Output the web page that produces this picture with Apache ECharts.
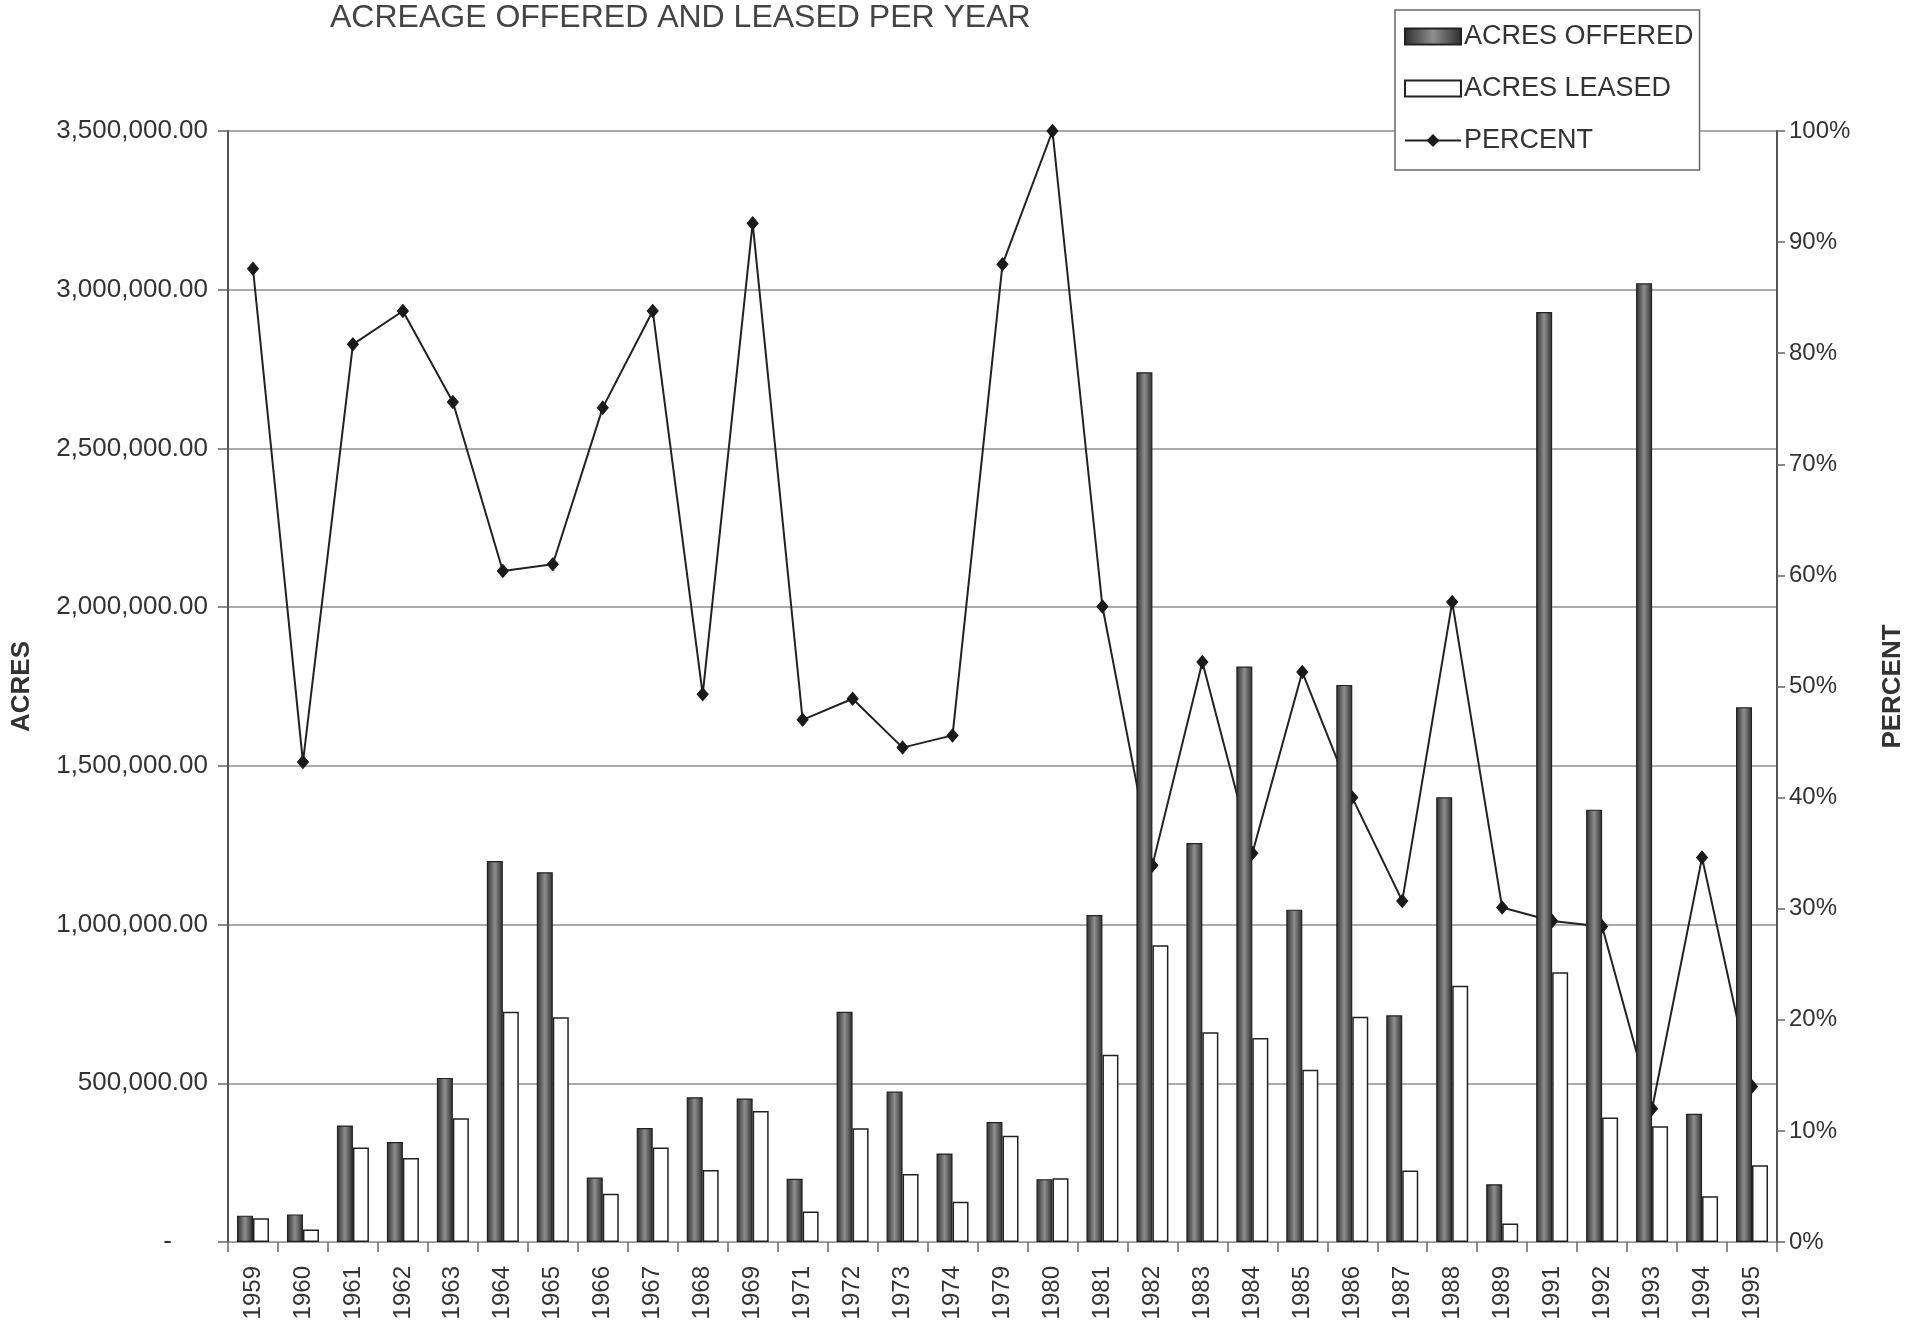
<!DOCTYPE html>
<html>
<head>
<meta charset="utf-8">
<script src="https://cdn.jsdelivr.net/npm/echarts@6/dist/echarts.min.js"></script>
<style>
html, body { margin: 0; padding: 0; background: #ffffff; }
#chart { width: 1915px; height: 1324px; }
</style>
</head>
<body>
<div id="chart"></div>
<script>
const years = ['1959','1960','1961','1962','1963','1964','1965','1966','1967','1968','1969','1971','1972','1973','1974','1979','1980','1981','1982','1983','1984','1985','1986','1987','1988','1989','1991','1992','1993','1994','1995'];
const acresOffered = [83000, 87000, 367000, 315000, 517000, 1200000, 1165000, 203000, 359000, 456000, 452000, 199000, 725000, 474000, 279000, 378000, 198000, 1030000, 2740000, 1257000, 1813000, 1047000, 1755000, 714000, 1401000, 182000, 2930000, 1362000, 3020000, 404000, 1685000];
const acresLeased = [75000, 39000, 298000, 265000, 390000, 725000, 708000, 152000, 298000, 227000, 413000, 96000, 358000, 214000, 127000, 335000, 201000, 590000, 935000, 661000, 643000, 543000, 710000, 225000, 807000, 58000, 850000, 392000, 365000, 144000, 242000];
const percentLeased = [87.6, 43.2, 80.8, 83.8, 75.6, 60.4, 61.0, 75.1, 83.8, 49.3, 91.7, 47.0, 48.9, 44.5, 45.6, 88.0, 100, 57.2, 33.9, 52.2, 35.0, 51.3, 40.0, 30.7, 57.6, 30.1, 28.9, 28.4, 12.0, 34.6, 14.0];

const titleText = 'ACREAGE OFFERED AND LEASED PER YEAR';
const seriesNames = ['ACRES OFFERED', 'ACRES LEASED', 'PERCENT'];
const leftAxisName = 'ACRES';
const rightAxisName = 'PERCENT';

const FONT = "'Liberation Sans', Arial, Helvetica, sans-serif";

const chart = echarts.init(document.getElementById('chart'), null, { renderer: 'canvas' });

const offeredFill = new echarts.graphic.LinearGradient(0, 0, 1, 0, [
  { offset: 0, color: '#2c2c2c' },
  { offset: 0.5, color: '#8e8e8e' },
  { offset: 1, color: '#2c2c2c' }
]);

const option = {
  backgroundColor: '#ffffff',
  animation: false,
  textStyle: { fontFamily: FONT },
  title: {
    text: titleText,
    left: 330,
    top: 2,
    padding: 0,
    textStyle: { fontFamily: FONT, fontSize: 32, fontWeight: 'normal', color: '#444444' }
  },
  legend: {
    orient: 'vertical',
    left: 1395,
    top: 10,
    padding: [13, 6, 16, 9],
    itemGap: 25,
    itemWidth: 56,
    itemHeight: 16,
    borderColor: '#666666',
    borderWidth: 1.5,
    backgroundColor: '#ffffff',
    textStyle: { fontFamily: FONT, fontSize: 27, color: '#333333', padding: [0, 0, 0, -2] },
    data: [
      { name: seriesNames[0], icon: 'rect' },
      { name: seriesNames[1], icon: 'rect' },
      { name: seriesNames[2] }
    ]
  },
  grid: { left: 228, right: 138, top: 131, bottom: 82, containLabel: false },
  xAxis: {
    type: 'category',
    data: years,
    boundaryGap: true,
    axisLine: { show: true, lineStyle: { color: '#999999', width: 1 } },
    axisTick: { show: true, length: 10, lineStyle: { color: '#666666', width: 1.5 } },
    axisLabel: {
      rotate: 90,
      margin: 24,
      interval: 0,
      fontFamily: FONT,
      fontSize: 24,
      color: '#333333'
    },
    splitLine: { show: false }
  },
  yAxis: [
    {
      type: 'value',
      min: 0,
      max: 3500000,
      interval: 500000,
      name: leftAxisName,
      nameLocation: 'middle',
      nameRotate: 90,
      nameGap: 193,
      nameTextStyle: { fontFamily: FONT, fontSize: 26, fontWeight: 'bold', color: '#333333' },
      axisLine: { show: true, lineStyle: { color: '#555555', width: 2 } },
      axisTick: { show: true, length: 10, lineStyle: { color: '#666666', width: 1.5 } },
      axisLabel: {
        margin: 20,
        fontFamily: FONT,
        fontSize: 26,
        color: '#333333',
        formatter: function (v) {
          if (v === 0) return '-     ';
          return v.toLocaleString('en-US', { minimumFractionDigits: 2, maximumFractionDigits: 2 });
        }
      },
      splitLine: { show: true, lineStyle: { color: '#8f8f8f', width: 1.5 } }
    },
    {
      type: 'value',
      min: 0,
      max: 100,
      interval: 10,
      position: 'right',
      name: rightAxisName,
      nameLocation: 'middle',
      nameRotate: 90,
      nameGap: 103,
      nameTextStyle: { fontFamily: FONT, fontSize: 26, fontWeight: 'bold', color: '#333333' },
      axisLine: { show: true, lineStyle: { color: '#555555', width: 2 } },
      axisTick: { show: true, length: 8, lineStyle: { color: '#666666', width: 1.5 } },
      axisLabel: {
        margin: 12,
        fontFamily: FONT,
        fontSize: 24,
        color: '#333333',
        formatter: '{value}%'
      },
      splitLine: { show: false }
    }
  ],
  series: [
    {
      name: seriesNames[0],
      type: 'bar',
      yAxisIndex: 0,
      data: acresOffered,
      barWidth: 16,
      barGap: '0%',
      z: 3,
      itemStyle: { color: offeredFill, borderColor: '#222222', borderWidth: 1.2 }
    },
    {
      name: seriesNames[1],
      type: 'bar',
      yAxisIndex: 0,
      data: acresLeased,
      barWidth: 16,
      barGap: '0%',
      z: 3,
      itemStyle: { color: '#ffffff', borderColor: '#222222', borderWidth: 1.5 }
    },
    {
      name: seriesNames[2],
      type: 'line',
      yAxisIndex: 1,
      data: percentLeased,
      z: 2,
      symbol: 'diamond',
      symbolSize: [11, 13],
      showAllSymbol: true,
      lineStyle: { color: '#222222', width: 2 },
      itemStyle: { color: '#1a1a1a', borderColor: '#1a1a1a' }
    }
  ]
};

chart.setOption(option);
</script>
</body>
</html>
